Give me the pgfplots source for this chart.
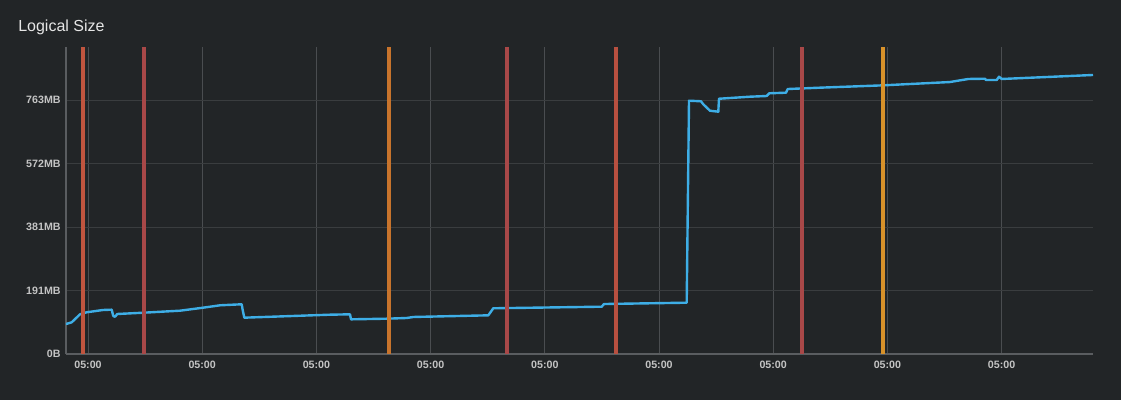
\documentclass[border=0pt]{standalone}
\usepackage{pgfplots}
\pgfplotsset{compat=1.18}
\usepackage{fontspec}
\setmainfont{Liberation Sans}
\definecolor{bg}{HTML}{222527}
\definecolor{gridh}{HTML}{3A3D3F}
\definecolor{gridv}{HTML}{4A4D50}
\definecolor{axisc}{HTML}{5A5D60}
\definecolor{tickc}{HTML}{C4C4C4}
\definecolor{titlec}{HTML}{E6E6E6}
\definecolor{lineblue}{HTML}{3EAEE6}
\definecolor{evA}{HTML}{C0553F}
\definecolor{evR}{HTML}{A84848}
\definecolor{evO}{HTML}{C8742C}
\definecolor{evB}{HTML}{B85040}
\definecolor{evY}{HTML}{D8922A}
\begin{document}
\begin{tikzpicture}
\fill[bg] (0,0) rectangle (840.75pt,300pt);
\node[anchor=base west, text=titlec, font=\fontsize{12}{14}\selectfont, inner sep=0pt] at (13.5pt,276pt) {Logical Size};
\begin{axis}[
  at={(49.5pt,34.5pt)}, anchor=south west,
  scale only axis, width=770.25pt, height=230.5pt,
  xmin=66, xmax=1093, ymin=0, ymax=4.84,
  axis lines*=left,
  axis line style={axisc, line width=0.8pt},
  major tick length=0pt,
  xtick={88,202.2,316.4,430.6,544.8,659,773.2,887.4,1001.6},
  xticklabels={05:00,05:00,05:00,05:00,05:00,05:00,05:00,05:00,05:00},
  ytick={0,1,2,3,4},
  yticklabels={0B,191MB,381MB,572MB,763MB},
  ticklabel style={text=tickc, font=\fontsize{8}{9.5}\selectfont\bfseries},
  xticklabel style={yshift=-2pt},
  yticklabel style={xshift=-0.5pt},
  xmajorgrids, ymajorgrids,
  x grid style={gridv, line width=0.75pt},
  y grid style={gridh, line width=0.75pt},
  clip=true,
]
\addplot[lineblue, line width=1.8pt, line join=round] coordinates {
(66,0.472) (71.7,0.499) (80,0.625) (86.7,0.657) (103,0.693) (111.7,0.698)
(113.3,0.598) (115,0.587) (117.3,0.630) (143,0.650) (180,0.682) (203,0.729)
(220,0.767) (241.7,0.783) (242.7,0.693) (244.3,0.572) (330,0.619) (350,0.625)
(351,0.546) (386.7,0.556) (406.7,0.567) (413.3,0.583) (488.3,0.609) (493.3,0.720)
(601.7,0.745) (604,0.787) (686.7,0.808) (689,3.989) (701,3.980) (703.3,3.932)
(710,3.831) (718.3,3.816) (719,4.020) (750,4.052) (766.7,4.063) (769.3,4.106)
(786,4.115) (787.7,4.173) (820,4.194) (883.3,4.231) (950,4.283) (968.3,4.331)
(985,4.335) (986,4.315) (996.7,4.315) (999,4.367) (1001.7,4.331) (1093,4.394)
};
\addplot[evA, line width=2.6pt] coordinates {(83,0) (83,4.84)};
\addplot[evR, line width=2.6pt] coordinates {(144,0) (144,4.84)};
\addplot[evO, line width=2.6pt] coordinates {(389,0) (389,4.84)};
\addplot[evR, line width=2.6pt] coordinates {(507,0) (507,4.84)};
\addplot[evB, line width=2.6pt] coordinates {(616,0) (616,4.84)};
\addplot[evR, line width=2.6pt] coordinates {(802,0) (802,4.84)};
\addplot[evY, line width=2.6pt] coordinates {(883,0) (883,4.84)};
\end{axis}
\end{tikzpicture}
\end{document}
